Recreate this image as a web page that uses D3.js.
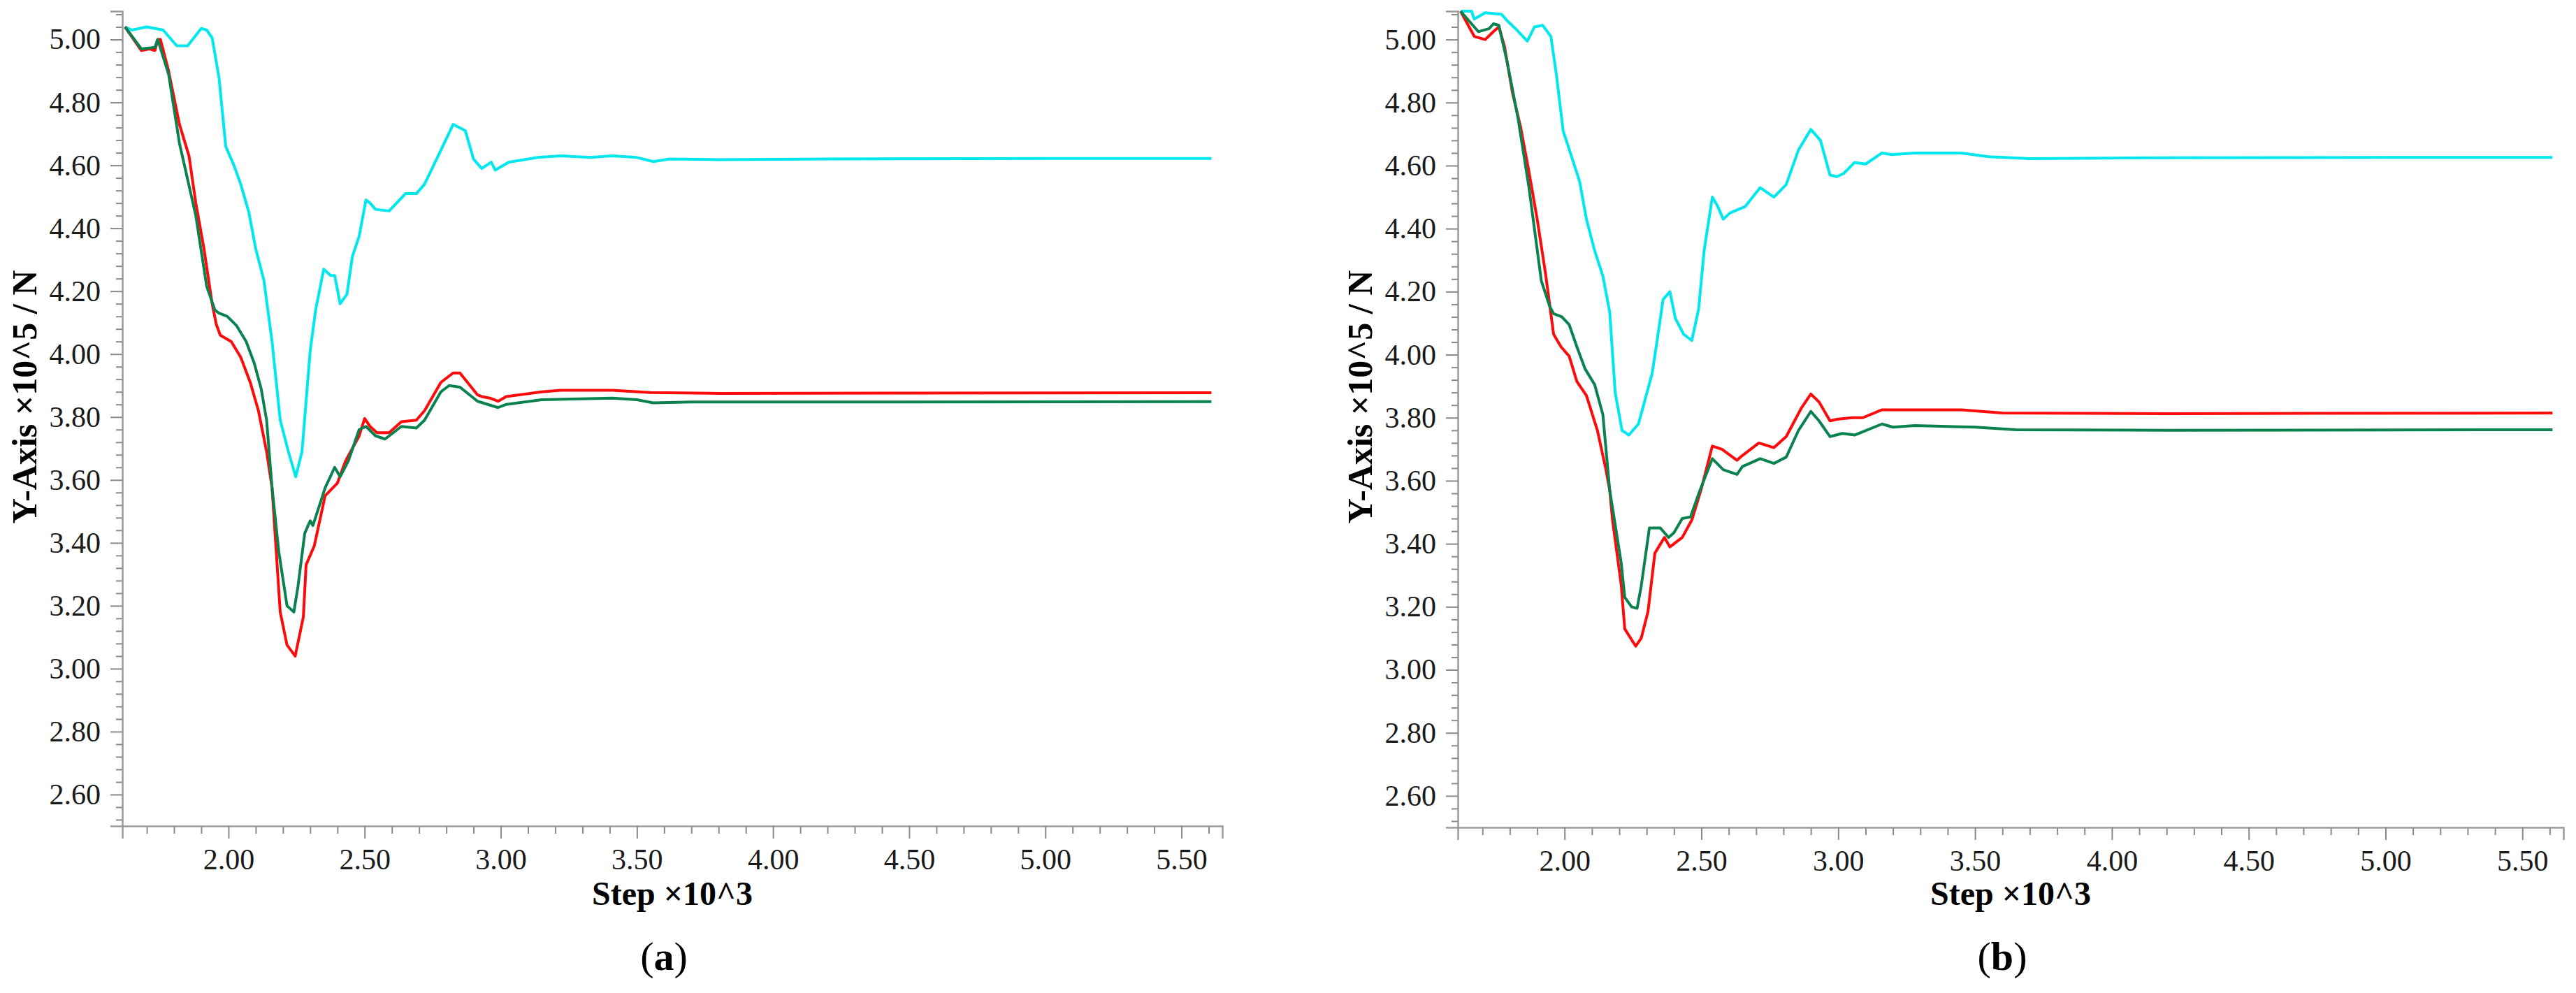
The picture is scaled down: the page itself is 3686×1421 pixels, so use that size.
<!DOCTYPE html>
<html><head><meta charset="utf-8">
<script src="https://cdn.jsdelivr.net/npm/d3@7"></script>
<style>body{margin:0;background:#fff}svg{display:block}</style>
</head><body>
<svg id="c" width="3686" height="1421"></svg>
<script>
const xTicks=[2.0,2.5,3.0,3.5,4.0,4.5,5.0,5.5];
const yTicks=[2.6,2.8,3.0,3.2,3.4,3.6,3.8,4.0,4.2,4.4,4.6,4.8,5.0];
const panelLabels=["a","b"];
const xTitle="Step ×10^3";
const yTitle="Y-Axis ×10^5 / N";
const seriesNames=["cyan","red","green"];

// panel (a)
const aCyan=[[1.62,5.04],[1.645,5.03],[1.70,5.04],[1.76,5.03],[1.81,4.98],[1.85,4.98],[1.90,5.035],[1.92,5.03],[1.94,5.005],[1.965,4.88],[1.99,4.66],[2.02,4.60],[2.045,4.54],[2.075,4.45],[2.10,4.335],[2.13,4.235],[2.16,4.04],[2.19,3.79],[2.22,3.69],[2.247,3.61],[2.27,3.69],[2.30,4.01],[2.32,4.14],[2.35,4.27],[2.375,4.25],[2.39,4.25],[2.41,4.16],[2.435,4.19],[2.455,4.31],[2.48,4.375],[2.505,4.49],[2.52,4.48],[2.54,4.46],[2.59,4.455],[2.65,4.51],[2.69,4.51],[2.72,4.54],[2.77,4.63],[2.825,4.73],[2.87,4.71],[2.90,4.62],[2.93,4.59],[2.965,4.61],[2.98,4.585],[3.03,4.61],[3.135,4.625],[3.22,4.63],[3.33,4.625],[3.41,4.63],[3.50,4.625],[3.56,4.612],[3.62,4.62],[3.80,4.618],[4.20,4.62],[5.00,4.622],[5.61,4.622]];
const aRed=[[1.62,5.04],[1.68,4.965],[1.71,4.97],[1.73,4.965],[1.74,5.0],[1.75,5.0],[1.78,4.90],[1.82,4.73],[1.855,4.63],[1.88,4.48],[1.91,4.335],[1.94,4.16],[1.955,4.095],[1.97,4.06],[2.01,4.04],[2.045,3.99],[2.08,3.91],[2.11,3.82],[2.14,3.69],[2.16,3.575],[2.19,3.18],[2.215,3.075],[2.245,3.04],[2.275,3.165],[2.285,3.33],[2.315,3.39],[2.355,3.55],[2.40,3.59],[2.43,3.66],[2.48,3.74],[2.50,3.795],[2.52,3.77],[2.545,3.75],[2.59,3.75],[2.635,3.785],[2.69,3.79],[2.72,3.82],[2.78,3.91],[2.825,3.94],[2.85,3.94],[2.915,3.87],[2.93,3.865],[2.96,3.86],[2.99,3.85],[3.02,3.865],[3.15,3.88],[3.22,3.885],[3.41,3.885],[3.55,3.878],[3.80,3.875],[4.50,3.876],[5.61,3.877]];
const aGreen=[[1.62,5.04],[1.68,4.97],[1.73,4.975],[1.74,5.0],[1.78,4.89],[1.82,4.67],[1.88,4.44],[1.92,4.215],[1.95,4.14],[1.965,4.13],[1.995,4.12],[2.03,4.09],[2.065,4.04],[2.095,3.97],[2.12,3.89],[2.14,3.79],[2.16,3.575],[2.185,3.37],[2.215,3.20],[2.24,3.18],[2.255,3.26],[2.28,3.43],[2.30,3.47],[2.31,3.455],[2.355,3.575],[2.39,3.64],[2.41,3.61],[2.44,3.66],[2.48,3.76],[2.505,3.77],[2.54,3.74],[2.575,3.73],[2.635,3.77],[2.69,3.765],[2.72,3.79],[2.78,3.88],[2.81,3.90],[2.85,3.895],[2.915,3.85],[2.99,3.83],[3.02,3.84],[3.15,3.855],[3.41,3.86],[3.50,3.855],[3.56,3.845],[3.70,3.848],[4.50,3.848],[5.61,3.849]];

// panel (b)
const bCyan=[[1.622,5.09],[1.66,5.09],[1.67,5.065],[1.71,5.085],[1.77,5.08],[1.79,5.06],[1.826,5.03],[1.864,4.995],[1.89,5.04],[1.92,5.045],[1.95,5.01],[1.97,4.89],[1.995,4.71],[2.025,4.63],[2.055,4.55],[2.08,4.43],[2.11,4.33],[2.14,4.25],[2.165,4.135],[2.185,3.88],[2.21,3.76],[2.235,3.745],[2.27,3.78],[2.295,3.86],[2.32,3.94],[2.34,4.055],[2.36,4.175],[2.385,4.20],[2.405,4.115],[2.435,4.065],[2.465,4.045],[2.49,4.145],[2.51,4.33],[2.54,4.50],[2.56,4.47],[2.58,4.43],[2.605,4.45],[2.66,4.47],[2.715,4.53],[2.765,4.50],[2.81,4.54],[2.855,4.65],[2.90,4.715],[2.935,4.68],[2.97,4.57],[2.995,4.565],[3.02,4.575],[3.06,4.61],[3.10,4.605],[3.16,4.64],[3.195,4.635],[3.28,4.64],[3.45,4.64],[3.55,4.628],[3.70,4.622],[4.20,4.625],[5.00,4.626],[5.61,4.626]];
const bRed=[[1.62,5.09],[1.67,5.01],[1.69,5.005],[1.71,5.0],[1.74,5.025],[1.76,5.04],[1.78,4.98],[1.81,4.83],[1.84,4.72],[1.87,4.58],[1.90,4.43],[1.93,4.26],[1.96,4.065],[1.987,4.025],[2.017,3.995],[2.045,3.915],[2.08,3.87],[2.12,3.76],[2.15,3.64],[2.165,3.57],[2.176,3.47],[2.207,3.27],[2.22,3.13],[2.26,3.075],[2.28,3.10],[2.305,3.185],[2.33,3.37],[2.365,3.42],[2.385,3.39],[2.43,3.42],[2.465,3.475],[2.50,3.575],[2.54,3.71],[2.575,3.70],[2.63,3.665],[2.65,3.68],[2.71,3.72],[2.765,3.705],[2.81,3.74],[2.865,3.83],[2.90,3.875],[2.93,3.85],[2.97,3.79],[2.995,3.795],[3.05,3.80],[3.09,3.80],[3.16,3.825],[3.25,3.825],[3.45,3.825],[3.60,3.815],[4.20,3.813],[5.61,3.815]];
const bGreen=[[1.62,5.09],[1.685,5.025],[1.725,5.035],[1.74,5.05],[1.76,5.045],[1.79,4.93],[1.83,4.75],[1.87,4.53],[1.915,4.235],[1.945,4.155],[1.96,4.13],[1.99,4.12],[2.017,4.095],[2.045,4.025],[2.075,3.955],[2.11,3.905],[2.14,3.81],[2.165,3.57],[2.176,3.51],[2.207,3.34],[2.22,3.23],[2.245,3.20],[2.265,3.195],[2.28,3.265],[2.31,3.45],[2.35,3.45],[2.38,3.42],[2.40,3.435],[2.43,3.48],[2.46,3.485],[2.495,3.57],[2.54,3.67],[2.58,3.635],[2.63,3.62],[2.65,3.645],[2.715,3.67],[2.765,3.655],[2.81,3.675],[2.855,3.76],[2.90,3.82],[2.93,3.79],[2.97,3.74],[3.015,3.75],[3.06,3.745],[3.16,3.78],[3.20,3.77],[3.28,3.775],[3.50,3.77],[3.65,3.762],[4.20,3.76],[5.61,3.762]];

const panels=[
 {left:175,right:1749,top:16,bottom:1182,series:[aCyan,aRed,aGreen]},
 {left:2086,right:3668,top:16,bottom:1184,series:[bCyan,bRed,bGreen]}
];
const colors=["#00e8ee","#ff0a0a","#0a8250"];
const svg=d3.select("#c");
const serif="'Liberation Serif','Times New Roman','DejaVu Serif',serif";

panels.forEach((p,i)=>{
  const x=d3.scaleLinear().domain([1.61,5.65]).range([p.left,p.right]);
  const y=d3.scaleLinear().domain([2.5,5.09]).range([p.bottom,p.top]);
  const g=svg.append("g");
  const xMinor=d3.range(17,57).map(v=>v/10).filter(v=>!xTicks.some(t=>Math.abs(t-v)<1e-6));
  const yMinor=d3.range(63,128).map(v=>v*0.04).filter(v=>!yTicks.some(t=>Math.abs(t-v)<1e-6));
  g.append("g").attr("transform",`translate(0,${p.bottom})`)
    .call(d3.axisBottom(x).tickValues(xMinor).tickSize(11).tickFormat(""))
    .call(a=>a.select(".domain").remove());
  g.append("g").attr("transform",`translate(${p.left},0)`)
    .call(d3.axisLeft(y).tickValues(yMinor).tickSize(9).tickFormat(""))
    .call(a=>a.select(".domain").remove());
  const xa=g.append("g").attr("transform",`translate(0,${p.bottom})`)
    .call(d3.axisBottom(x).tickValues(xTicks).tickSize(18).tickPadding(14).tickFormat(d3.format(".2f")));
  const ya=g.append("g").attr("transform",`translate(${p.left},0)`)
    .call(d3.axisLeft(y).tickValues(yTicks).tickSize(17).tickPadding(14).tickFormat(d3.format(".2f")));
  svg.selectAll(".tick line").attr("stroke","#8a8a8a").attr("stroke-width",2);
  svg.selectAll(".domain").attr("stroke","#9a9a9a").attr("stroke-width",2.5);
  [xa,ya].forEach(a=>a.selectAll("text").attr("font-family",serif).attr("font-size",42).attr("fill","#1a1a1a"));
  const line=d3.line().x(d=>x(d[0])).y(d=>y(d[1]));
  p.series.forEach((s,k)=>{
    g.append("path").datum(s).attr("d",line).attr("fill","none")
      .attr("stroke",colors[k]).attr("stroke-width",4).attr("stroke-linejoin","round");
  });
  const cx=(p.left+p.right)/2;
  g.append("text").attr("x",cx).attr("y",1295).attr("text-anchor","middle")
    .attr("font-family",serif).attr("font-weight","bold").attr("font-size",48).text(xTitle);
  g.append("text").attr("transform",`translate(${p.left-123},${p.top+552}) rotate(-90)`)
    .attr("text-anchor","middle").attr("font-family",serif).attr("font-weight","bold")
    .attr("font-size",50).text(yTitle);
  const t=g.append("text").attr("x",cx-12).attr("y",1388).attr("text-anchor","middle")
    .attr("font-family",serif).attr("font-size",58);
  t.append("tspan").text("(");
  t.append("tspan").attr("font-weight","bold").text(panelLabels[i]);
  t.append("tspan").text(")");
});
</script>
</body></html>
